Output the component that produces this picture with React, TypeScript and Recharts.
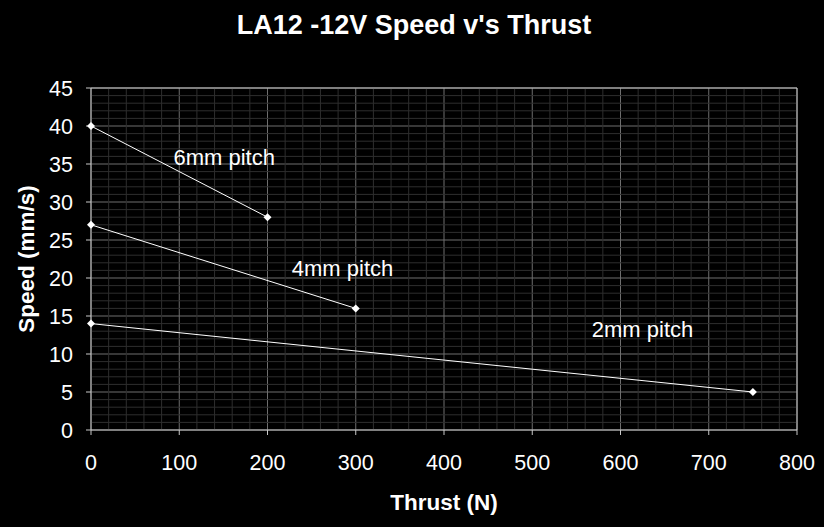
import React from 'react';
import { LineChart, Line, XAxis, YAxis, CartesianGrid, ReferenceLine, ReferenceDot } from 'recharts';

const thrust6mm = [0, 200];
const speed6mm = [40, 28];
const thrust4mm = [0, 300];
const speed4mm = [27, 16];
const thrust2mm = [0, 750];
const speed2mm = [14, 5];

const xTicks = [0, 100, 200, 300, 400, 500, 600, 700, 800];
const yTicks = [0, 5, 10, 15, 20, 25, 30, 35, 40, 45];

const seriesLabels = [
  { text: '6mm pitch', x: 151, y: 35.9 },
  { text: '4mm pitch', x: 285, y: 21.3 },
  { text: '2mm pitch', x: 625, y: 13.2 },
];

const toPoints = (xs: number[], ys: number[]) => xs.map((x, i) => ({ x, y: ys[i] }));

// minor grid every 20 N and every 1 mm/s
const minorX: number[] = [];
for (let v = 20; v < 800; v += 20) if (v % 100 !== 0) minorX.push(v);
const minorY: number[] = [];
for (let v = 1; v < 45; v++) if (v % 5 !== 0) minorY.push(v);

const FONT = '"Liberation Sans", Arial, sans-serif';

const Diamond = (props: any) => {
  const { cx, cy } = props;
  if (cx == null || cy == null) return null;
  return <polygon points={`${cx},${cy - 4} ${cx + 4},${cy} ${cx},${cy + 4} ${cx - 4},${cy}`} fill="#fff" />;
};

const App: React.FC = () => {
  return (
    <div style={{ position: 'absolute', left: 0, top: 0, width: 824, height: 527, background: '#000', fontFamily: FONT }}>
      <div style={{ position: 'absolute', top: 10, left: 2, width: '100%', textAlign: 'center', color: '#fff', fontWeight: 'bold', fontSize: 27 }}>
        LA12 -12V Speed v's Thrust
      </div>
      <LineChart width={824} height={527} margin={{ top: 88, right: 27, left: 0, bottom: 0 }}>
        {minorX.map((v) => (
          <ReferenceLine key={'mx' + v} x={v} stroke="#2e2e2e" strokeWidth={1} />
        ))}
        {minorY.map((v) => (
          <ReferenceLine key={'my' + v} y={v} stroke="#2e2e2e" strokeWidth={1} />
        ))}
        <CartesianGrid stroke="#6e6e6e" />
        <XAxis
          type="number"
          dataKey="x"
          domain={[0, 800]}
          ticks={xTicks}
          height={97}
          stroke="#c8c8c8"
          tickSize={5}
          tickMargin={20}
          tick={{ fill: '#fff', fontSize: 21.5, fontFamily: FONT }}
          label={{ value: 'Thrust (N)', position: 'insideBottom', offset: 17, fill: '#fff', fontSize: 22.5, fontWeight: 'bold', fontFamily: FONT }}
        />
        <YAxis
          type="number"
          dataKey="y"
          domain={[0, 45]}
          ticks={yTicks}
          width={91}
          stroke="#c8c8c8"
          tickSize={5}
          tickMargin={13}
          tick={{ fill: '#fff', fontSize: 21.5, fontFamily: FONT }}
          label={{ value: 'Speed (mm/s)', angle: -90, position: 'insideLeft', offset: 26, fill: '#fff', fontSize: 22.5, fontWeight: 'bold', fontFamily: FONT, style: { textAnchor: 'middle' } }}
        />
        <ReferenceLine y={45} stroke="#c8c8c8" />
        <ReferenceLine x={800} stroke="#c8c8c8" />
        <Line data={toPoints(thrust6mm, speed6mm)} dataKey="y" stroke="#fff" strokeWidth={1} dot={<Diamond />} isAnimationActive={false} />
        <Line data={toPoints(thrust4mm, speed4mm)} dataKey="y" stroke="#fff" strokeWidth={1} dot={<Diamond />} isAnimationActive={false} />
        <Line data={toPoints(thrust2mm, speed2mm)} dataKey="y" stroke="#fff" strokeWidth={1} dot={<Diamond />} isAnimationActive={false} />
        {seriesLabels.map((l) => (
          <ReferenceDot
            key={l.text}
            x={l.x}
            y={l.y}
            r={0}
            fill="none"
            stroke="none"
            label={{ value: l.text, position: 'center', fill: '#fff', fontSize: 22, fontFamily: FONT }}
          />
        ))}
      </LineChart>
    </div>
  );
};

export default App;
